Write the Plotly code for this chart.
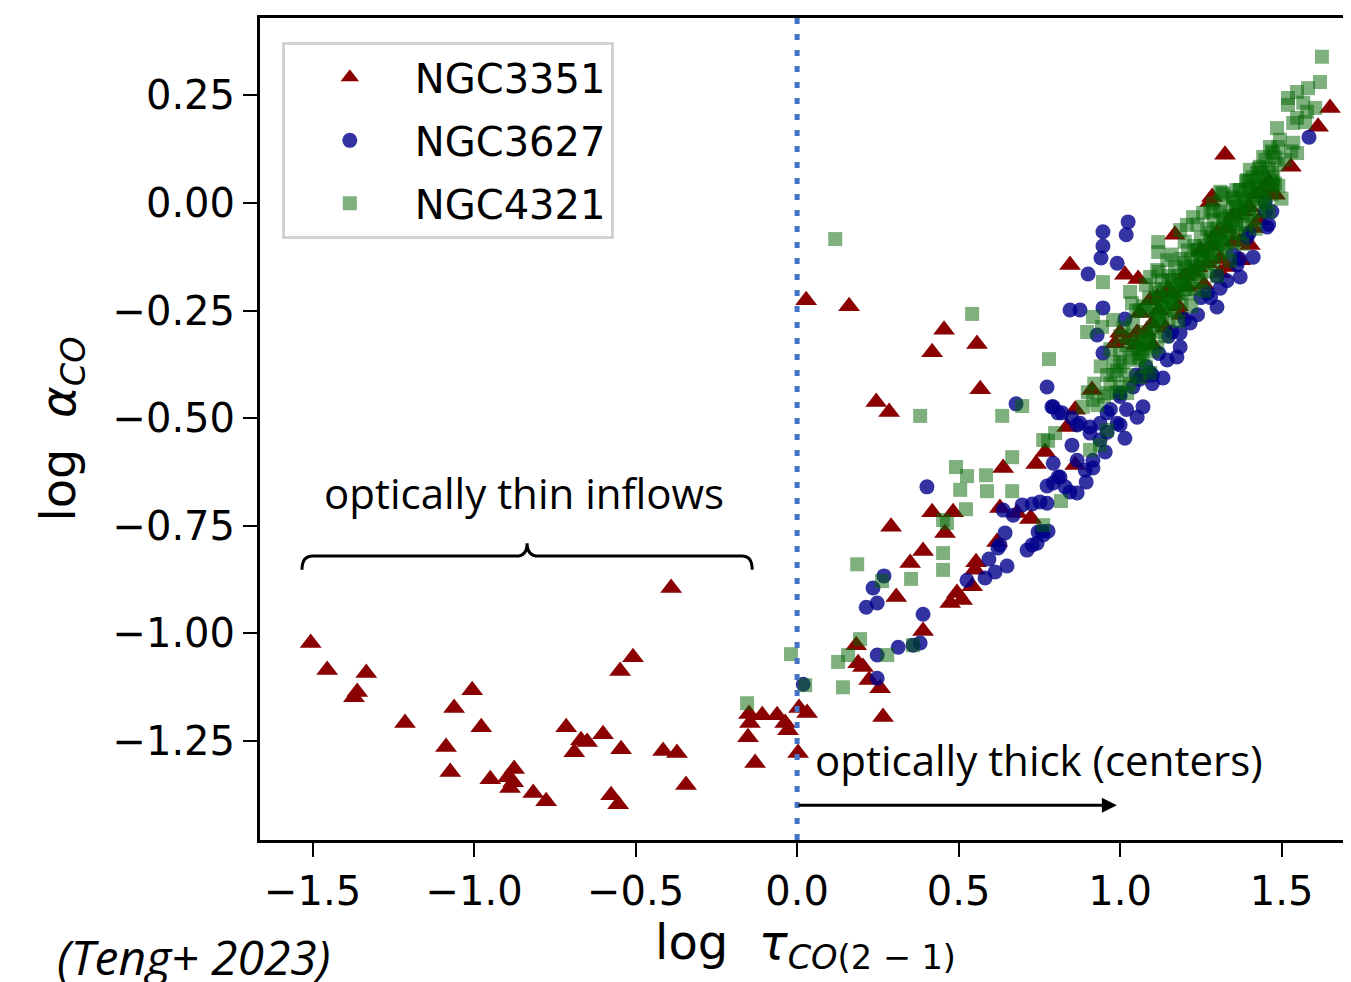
import plotly.graph_objects as go

# NGC3351 (red triangles)
n3351_x = [-1.506, -1.455, -1.334, -1.362, -1.372, -1.214, -1.006, -1.062, -0.978, -1.087,
           -1.074, -0.950, -0.876, -0.895, -0.879, -0.889, -0.817, -0.777, -0.390, -0.508,
           -0.548, -0.715, -0.669, -0.650, -0.690, -0.601, -0.545, -0.415, -0.372, -0.344,
           -0.576, -0.554, -0.149, -0.108, -0.062, -0.037, -0.028, -0.146, -0.152, -0.130,
           0.003, 0.006, 0.031,
           0.028, 0.161, 0.455, 0.418, 0.557, 0.567, 0.245, 0.285, 0.768, 0.740,
           0.638, 0.628, 0.681, 0.724, 0.418, 0.483, 0.291, 0.458, 0.619, 0.390,
           0.350, 0.554, 0.551, 0.542, 0.307, 0.495, 0.511, 0.474, 0.390, 0.183,
           0.189, 0.204, 0.223, 0.257, 0.266, 0.721, 0.836, 0.861,
           0.845, 1.015, 1.056, 1.170, 1.279, 1.480, 1.412, 1.402, 1.372, 1.062,
           1.000, 0.985, 1.022, 1.053, 1.115, 1.093, 1.056, 0.913, 0.861, 1.207,
           1.310, 1.331, 1.650, 1.613, 1.325, 1.529, 1.474, 1.285,
           1.15, 1.20, 1.25, 1.30, 1.35, 1.10, 1.18, 1.40, 1.44, 1.24,
           1.05, 1.08, 1.12, 1.16, 1.22, 1.28, 1.33, 1.38, 1.42, 1.46, 1.35, 1.27,
           1.10, 1.14, 1.19, 1.26, 1.31, 1.37, 1.43]
n3351_y = [-1.023, -1.086, -1.093, -1.137, -1.149, -1.209, -1.133, -1.174, -1.219, -1.265,
           -1.323, -1.340, -1.316, -1.335, -1.347, -1.360, -1.372, -1.391, -0.895, -1.056,
           -1.088, -1.219, -1.249, -1.253, -1.277, -1.235, -1.270, -1.274, -1.279, -1.353,
           -1.377, -1.398, -1.188, -1.191, -1.191, -1.209, -1.226, -1.209, -1.242, -1.302,
           -1.279, -1.174, -1.186,
           -0.226, -0.240, -0.295, -0.347, -0.328, -0.433, -0.463, -0.486, -0.579, -0.607,
           -0.616, -0.709, -0.721, -0.733, -0.719, -0.719, -0.753, -0.767, -0.788, -0.809,
           -0.837, -0.835, -0.853, -0.891, -0.916, -0.907, -0.923, -0.930, -0.995, -1.028,
           -1.070, -1.079, -1.109, -1.128, -1.195, -0.735, -0.521, -0.609,
           -0.144, -0.167, -0.177, -0.074, 0.002, 0.019, -0.058, -0.098, -0.133, -0.256,
           -0.302, -0.326, -0.319, -0.302, -0.219, -0.226, -0.407, -0.435, -0.481, -0.195,
           -0.163, -0.149, 0.221, 0.177, 0.112, 0.084, 0.021, 0.014,
           -0.20, -0.17, -0.11, -0.07, -0.03, -0.28, -0.24, -0.01, 0.03, -0.15,
           -0.33, -0.30, -0.25, -0.21, -0.16, -0.10, -0.06, -0.02, 0.02, 0.05, -0.09, -0.14,
           -0.33, -0.29, -0.26, -0.19, -0.13, -0.09, -0.04]

# NGC3627 (blue circles)
n3627_x = [0.019, 0.774, 0.678, 0.793, 0.808, 0.793, 0.402, 0.774, 0.793, 0.808,
           0.774, 0.752, 0.728, 0.697, 0.669, 0.638, 0.644, 0.628, 0.622, 0.746,
           0.743, 0.728, 0.712, 0.269, 0.235, 0.248, 0.214, 0.594, 0.650, 0.613,
           0.582, 0.526, 0.390, 0.381, 0.359, 0.313, 0.248, 0.248, 0.758, 0.777,
           0.762, 0.830, 0.845, 0.867, 0.895, 0.814, 0.851, 0.867, 0.916, 0.954,
           0.960, 1.000, 1.015, 0.938, 0.907, 0.876, 0.892, 0.916,
           1.025, 0.947, 1.019, 0.947, 0.941, 0.991, 0.901, 0.845, 0.876, 0.947,
           1.015, 0.929, 0.947, 0.789, 0.820, 0.851, 0.867, 1.053, 1.071, 1.133,
           1.186, 1.176, 1.217, 1.300, 1.310, 1.362, 1.393, 1.455, 1.449, 0.960,
           1.000, 1.040, 1.093, 1.146, 1.186, 0.907, 0.938, 0.991, 1.331, 1.372,
           1.412, 1.585, 1.24, 1.28, 1.10, 1.02, 1.47,
           1.05, 1.08, 1.12, 1.15, 1.20, 1.25, 1.30, 1.35, 1.40, 1.45, 1.00, 0.97, 1.10,
           1.06, 1.16, 1.27, 1.37, 1.46]
n3627_y = [-1.119, -0.428, -0.467, -0.474, -0.488, -0.605, -0.660, -0.658, -0.651, -0.637,
           -0.698, -0.695, -0.700, -0.702, -0.726, -0.714, -0.767, -0.795, -0.802, -0.765,
           -0.791, -0.795, -0.807, -0.867, -0.895, -0.930, -0.940, -0.828, -0.844, -0.858,
           -0.872, -0.877, -0.956, -1.023, -1.028, -1.033, -1.051, -1.105, -0.763, -0.763,
           -0.772, -0.660, -0.672, -0.674, -0.649, -0.637, -0.563, -0.598, -0.598, -0.579,
           -0.533, -0.516, -0.547, -0.551, -0.521, -0.512, -0.621, -0.616,
           -0.044, -0.067, -0.074, -0.100, -0.128, -0.140, -0.165, -0.249, -0.249, -0.244,
           -0.270, -0.307, -0.349, -0.474, -0.488, -0.500, -0.516, -0.498, -0.474, -0.407,
           -0.335, -0.358, -0.279, -0.242, -0.198, -0.144, -0.081, -0.056, 0.002, -0.488,
           -0.442, -0.428, -0.395, -0.365, -0.302, -0.535, -0.512, -0.512, -0.181, -0.172,
           -0.126, 0.153, -0.26, -0.22, -0.42, -0.48, -0.02,
           -0.40, -0.38, -0.35, -0.31, -0.27, -0.22, -0.17, -0.12, -0.07, -0.02, -0.45, -0.48, -0.40,
           -0.41, -0.30, -0.21, -0.13, -0.05]

# NGC4321 (green squares)
n4321_x = [-0.019, -0.155, 0.025, 0.118, 0.542, 0.780, 0.381, 0.635, 0.697, 0.799,
           0.777, 0.666, 0.492, 0.526, 0.585, 0.505, 0.588, 0.666, 0.523, 0.452,
           0.464, 0.762, 0.452, 0.452, 0.186, 0.353, 0.263, 0.359, 0.279, 0.195,
           0.158, 0.127, 0.142, 0.817,
           0.947, 1.118, 1.118, 1.186, 1.207, 1.226, 1.257, 1.288, 1.316, 1.288,
           1.031, 1.037, 0.916, 0.898, 0.944, 0.978, 1.093, 1.115, 1.146, 0.762,
           0.885, 0.916, 0.960, 1.000, 1.022, 1.062, 1.093, 1.053, 1.115, 0.938,
           0.960, 0.907,
           1.625, 1.619, 1.582, 1.548, 1.520, 1.567, 1.604, 1.520, 1.579, 1.548,
           1.536, 1.573, 1.486, 1.495, 1.536, 1.548, 1.464, 1.474, 1.443, 1.433,
           1.402, 1.424, 1.474, 1.393, 1.474, 1.433, 1.372, 1.350, 1.310,
           1.08, 1.08, 1.09, 1.10, 1.10, 1.11, 1.12, 1.12, 1.13, 1.14,
           1.14, 1.15, 1.16, 1.16, 1.17, 1.18, 1.18, 1.19, 1.20, 1.20,
           1.21, 1.22, 1.22, 1.23, 1.24, 1.24, 1.25, 1.26, 1.26, 1.27,
           1.28, 1.28, 1.29, 1.30, 1.30, 1.31, 1.32, 1.32, 1.33, 1.34,
           1.34, 1.35, 1.36, 1.36, 1.37, 1.38, 1.38, 1.39, 1.40, 1.40,
           1.41, 1.42, 1.43, 1.44, 1.45, 1.46, 1.47,
           1.05, 1.07, 1.03, 1.00, 0.98, 1.04,
           1.06, 1.07, 1.09, 1.11, 1.13, 1.15, 1.17, 1.19, 1.21, 1.23, 1.25, 1.27,
           1.29, 1.31, 1.33, 1.35, 1.37, 1.39, 1.41, 1.43, 1.45, 1.47, 1.49,
           1.06, 1.07, 1.09, 1.11, 1.13, 1.15, 1.17, 1.19, 1.21, 1.23, 1.25, 1.27,
           1.29, 1.31, 1.33, 1.35, 1.37, 1.39, 1.41, 1.43, 1.45, 1.47, 1.49,
           1.11, 1.13, 1.15, 1.17, 1.19, 1.21, 1.23, 1.25, 1.27, 1.29, 1.31, 1.33,
           1.35, 1.37, 1.39, 1.41, 1.43, 1.45, 1.47, 1.49, 1.51, 1.53,
           0.97, 0.99, 1.01, 1.02, 1.04, 1.06, 0.95, 0.93, 1.00, 1.08,
           1.08, 1.12, 1.16, 1.20, 1.24, 1.28, 1.32, 1.36, 1.40,
           1.10, 1.14, 1.18, 1.22, 1.26, 1.30, 1.34, 1.38, 1.42, 1.46, 1.50,
           1.12, 1.16, 1.20, 1.24, 1.28, 1.32, 1.36, 1.40, 1.44, 1.48,
           1.08, 1.12, 1.16, 1.20, 1.24, 1.28, 1.32, 1.36, 1.40, 1.44, 1.48,
           0.96, 0.98, 1.00, 1.02, 1.04, 1.06, 1.08, 1.03, 0.99, 1.01, 0.97, 1.05, 0.92, 0.90, 0.94]
n4321_y = [-1.049, -1.163, -1.121, -0.084, -0.258, -0.363, -0.495, -0.495, -0.472, -0.535,
           -0.553, -0.591, -0.614, -0.635, -0.633, -0.667, -0.670, -0.670, -0.712, -0.737,
           -0.744, -0.749, -0.814, -0.853, -0.840, -0.874, -0.879, -1.028, -1.051, -1.014,
           -1.051, -1.067, -1.126, -0.693,
           -0.184, -0.091, -0.114, -0.063, -0.051, -0.033, -0.023, -0.016, 0.023, 0.000,
           -0.207, -0.233, -0.265, -0.300, -0.288, -0.272, -0.172, -0.156, -0.133, -0.551,
           -0.474, -0.458, -0.442, -0.428, -0.442, -0.405, -0.395, -0.365, -0.335, -0.563,
           -0.528, -0.574,
           0.340, 0.281, 0.267, 0.258, 0.244, 0.233, 0.221, 0.228, 0.212, 0.198,
           0.186, 0.188, 0.174, 0.147, 0.140, 0.116, 0.130, 0.116, 0.107, 0.084,
           0.077, 0.070, 0.060, 0.053, 0.042, 0.037, 0.030, 0.014, 0.026,
           -0.30, -0.25, -0.32, -0.24, -0.29, -0.27, -0.22, -0.26, -0.24, -0.20,
           -0.25, -0.22, -0.18, -0.23, -0.21, -0.17, -0.21, -0.19, -0.15, -0.19,
           -0.17, -0.13, -0.18, -0.15, -0.11, -0.16, -0.13, -0.10, -0.14, -0.11,
           -0.08, -0.12, -0.09, -0.06, -0.10, -0.08, -0.04, -0.09, -0.06, -0.03,
           -0.07, -0.04, -0.01, -0.05, -0.02, 0.01, -0.03, 0.00, 0.03, -0.01,
           0.02, 0.04, 0.01, 0.06, 0.03, 0.08, 0.05,
           -0.33, -0.35, -0.36, -0.38, -0.40, -0.31,
           -0.25, -0.24, -0.22, -0.20, -0.18, -0.17, -0.15, -0.13, -0.11, -0.10, -0.08, -0.06,
           -0.04, -0.02, -0.01, 0.01, 0.03, 0.05, 0.06, 0.08, 0.10, 0.12, 0.13,
           -0.35, -0.34, -0.32, -0.30, -0.28, -0.27, -0.25, -0.23, -0.21, -0.20, -0.18, -0.16,
           -0.14, -0.12, -0.11, -0.09, -0.07, -0.05, -0.04, -0.02, 0.00, 0.02, 0.04,
           -0.25, -0.235, -0.22, -0.20, -0.18, -0.16, -0.145, -0.13, -0.11, -0.09, -0.075, -0.055,
           -0.04, -0.02, 0.00, 0.015, 0.035, 0.05, 0.07, 0.09, 0.10, 0.12,
           -0.42, -0.39, -0.37, -0.40, -0.34, -0.32, -0.45, -0.47, -0.35, -0.33,
           -0.19, -0.16, -0.12, -0.09, -0.05, -0.02, 0.02, 0.03, 0.05,
           -0.345, -0.31, -0.275, -0.24, -0.205, -0.17, -0.135, -0.095, -0.06, -0.02, 0.01,
           -0.21, -0.18, -0.14, -0.11, -0.07, -0.035, 0.00, 0.035, 0.07, 0.105,
           -0.31, -0.27, -0.24, -0.20, -0.165, -0.13, -0.095, -0.06, -0.025, 0.01, 0.045,
           -0.40, -0.37, -0.31, -0.33, -0.28, -0.36, -0.38, -0.42, -0.44, -0.29, -0.34, -0.25, -0.42, -0.44, -0.38]

x_ticks = [-1.5, -1.0, -0.5, 0.0, 0.5, 1.0, 1.5]
y_ticks = [0.25, 0.0, -0.25, -0.5, -0.75, -1.0, -1.25]

fig = go.Figure()
fig.add_trace(go.Scatter(x=n3351_x, y=n3351_y, mode="markers", name="NGC3351", legendgroup="a",
                         marker=dict(symbol="triangle-up", size=19, color="rgb(139,0,0)", line_width=0)))
fig.add_trace(go.Scatter(x=n3627_x, y=n3627_y, mode="markers", name="NGC3627", legendgroup="b",
                         marker=dict(symbol="circle", size=15, color="rgba(0,0,139,0.8)", line_width=0)))
fig.add_trace(go.Scatter(x=n4321_x, y=n4321_y, mode="markers", name="NGC4321", legendgroup="c",
                         marker=dict(symbol="square", size=14, color="rgba(0,100,0,0.5)", line_width=0)))

# vertical dotted line at tau = 1
fig.add_shape(type="line", x0=0, x1=0, y0=0, y1=1, xref="x", yref="paper",
              line=dict(color="rgb(68,114,196)", width=5, dash="6px,10px"))

# curly bracket over the thin inflows
fig.add_shape(type="path", xref="x", yref="y",
              path="M -1.533,-0.853 Q -1.533,-0.821 -1.50,-0.821 L -0.87,-0.821 "
                   "Q -0.836,-0.821 -0.836,-0.791 Q -0.836,-0.821 -0.80,-0.821 "
                   "L -0.17,-0.821 Q -0.139,-0.821 -0.139,-0.853",
              line=dict(color="black", width=3))

fig.add_annotation(x=-0.845, y=-0.672, text="optically thin inflows", showarrow=False,
                   font=dict(family="Open Sans", size=42, color="black"))
fig.add_annotation(x=0.050, y=-1.295, text="optically thick (centers)", showarrow=False,
                   xanchor="left", font=dict(family="Open Sans", size=42, color="black"))
fig.add_annotation(x=0.99, y=-1.40, ax=0.0, ay=-1.40, axref="x", ayref="y", text="",
                   showarrow=True, arrowhead=2, arrowsize=1, arrowwidth=3, arrowcolor="black")
fig.add_annotation(x=-0.188, y=-0.100, xref="paper", yref="paper", xanchor="left", yanchor="top",
                   text="<i>(Teng+ 2023)</i>", showarrow=False,
                   font=dict(family="Open Sans", size=48, color="black"))

# the page body adds an 8px margin, so the figure is shifted by 8px to match
fig.update_layout(
    width=1343, height=974,
    margin=dict(l=252, r=0, t=10, b=142),
    plot_bgcolor="white", paper_bgcolor="white",
    font=dict(family="DejaVu Sans", size=40, color="black"),
    legend=dict(x=0.02, y=0.971, xanchor="left", yanchor="top",
                bgcolor="white", bordercolor="rgb(210,210,210)", borderwidth=3,
                font=dict(family="DejaVu Sans", size=40, color="black"),
                itemwidth=120, tracegroupgap=8),
    showlegend=True,
)
fig.update_xaxes(range=[-1.663, 1.715], tickvals=x_ticks, ticktext=[f"{v:.1f}".replace("-", "\u2212") for v in x_ticks],
                 showgrid=False, zeroline=False, showline=True, linecolor="black", linewidth=3, mirror=True,
                 ticks="outside", ticklen=14, tickwidth=2, tickcolor="black",
                 title=dict(text="log  <i>τ</i><sub><i>CO</i>(2 − 1)</sub>", standoff=10))
fig.update_yaxes(range=[-1.481, 0.430], tickvals=y_ticks, ticktext=[f"{v:.2f}".replace("-", "\u2212") for v in y_ticks],
                 showgrid=False, zeroline=False, showline=True, linecolor="black", linewidth=3, mirror=False,
                 ticks="outside", ticklen=14, tickwidth=2, tickcolor="black",
                 title=dict(text="log  <i>α</i><sub><i>CO</i></sub>", standoff=22))

fig.write_html("out.html")
